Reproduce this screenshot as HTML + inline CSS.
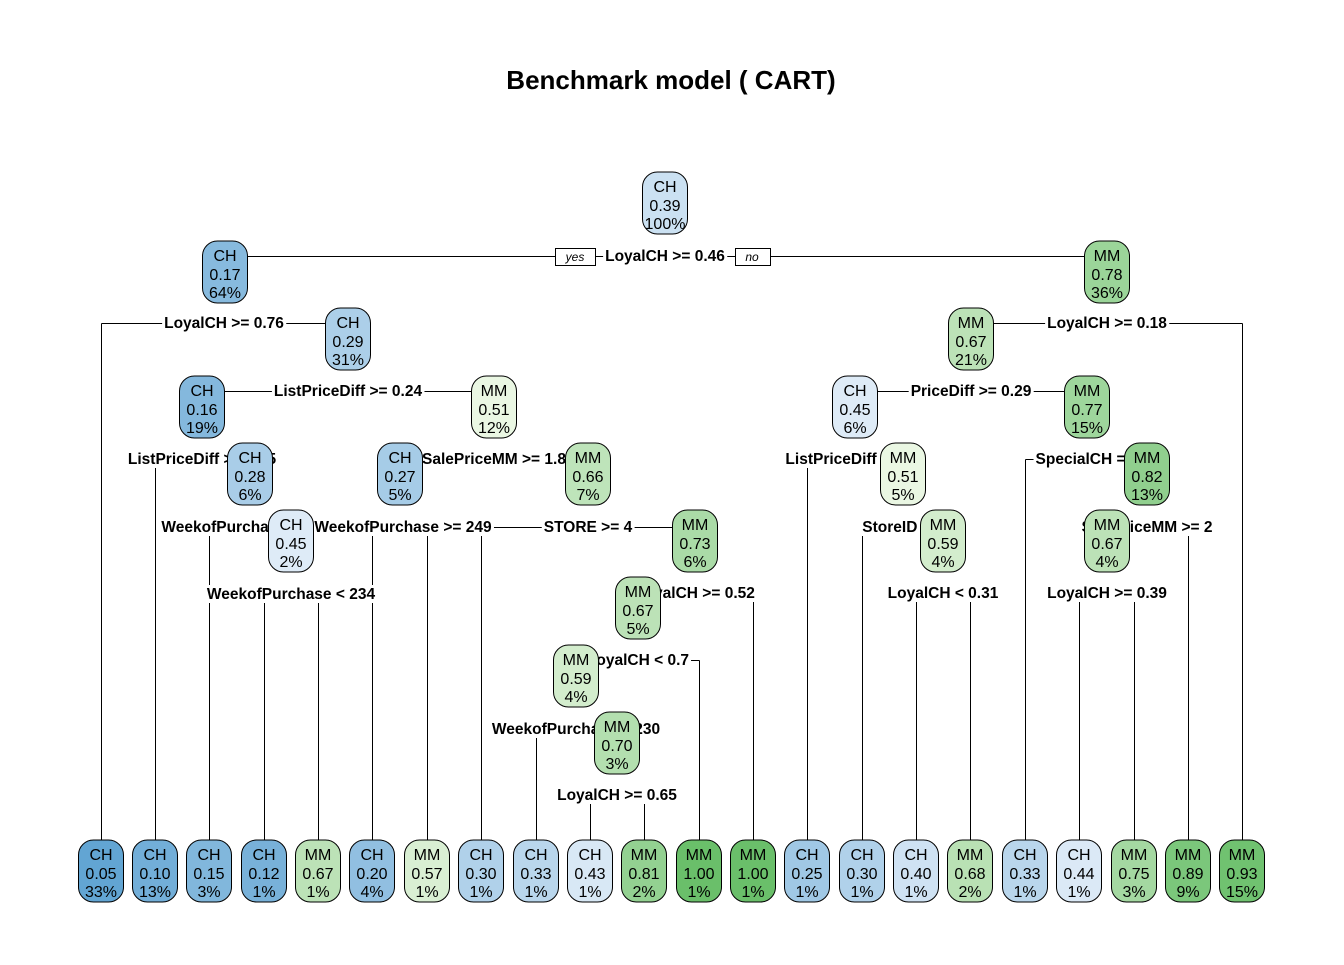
<!DOCTYPE html>
<html><head><meta charset="utf-8">
<style>
html,body{margin:0;padding:0;background:#fff;}
svg text{font-family:"Liberation Sans",Arial,sans-serif;}
</style></head>
<body>
<svg id="s" width="1344" height="960" xmlns="http://www.w3.org/2000/svg">
<rect width="1344" height="960" fill="#fff"/>
<text x="671" y="89" font-size="26" font-weight="bold" text-anchor="middle">Benchmark model ( CART)</text>
<g id="lines" stroke="#000" stroke-width="1" fill="none" shape-rendering="crispEdges"></g>
<g id="labels"></g>
<g id="nodes"></g>
</svg>
<script>
var L=document.getElementById('lines'),LB=document.getElementById('labels'),N=document.getElementById('nodes');
var NS='http://www.w3.org/2000/svg';
function el(p,t,a,txt){var e=document.createElementNS(NS,t);for(var k in a)e.setAttribute(k,a[k]);if(txt!=null)e.textContent=txt;p.appendChild(e);return e;}
function line(x1,y1,x2,y2){el(L,'line',{x1:x1+0.5,y1:y1+0.5,x2:x2+0.5,y2:y2+0.5});}
function mix(a,b,t){t=Math.max(0,Math.min(1,t));var r=[];for(var i=0;i<3;i++)r.push(Math.round(a[i]+(b[i]-a[i])*t));return 'rgb('+r.join(',')+')';}
function col(cls,p){
 if(cls=='CH'){var q=1-p;return mix([222,235,247],[98,165,211],(q-0.55)/0.4);}
 return mix([237,248,230],[106,191,106],(p-0.5)/0.45);
}
function node(x,y,cls,p,pct){
 el(N,'rect',{x:x-22.5,y:y-31,width:45,height:62,rx:15,ry:15,fill:col(cls,p),stroke:'#000','stroke-width':1});
 el(N,'text',{x:x,y:y-11,'font-size':16,'text-anchor':'middle'},cls);
 el(N,'text',{x:x,y:y+8,'font-size':16,'text-anchor':'middle'},p.toFixed(2));
 el(N,'text',{x:x,y:y+26,'font-size':16,'text-anchor':'middle'},pct+'%');
}
function lab(x,y,t){
 var tx=el(LB,'text',{x:x,y:y+5,'font-size':15.5,'font-weight':'bold','text-anchor':'middle'},t);
 var b=tx.getBBox();
 var r=document.createElementNS(NS,'rect');
 r.setAttribute('x',b.x-2);r.setAttribute('y',y-9);r.setAttribute('width',b.width+4);r.setAttribute('height',18);r.setAttribute('fill','#fff');
 LB.insertBefore(r,tx);
}
var LY=871;
function split(x,y,lx,rx,t){line(lx,y,rx,y);lab(x,y,t);}
function down(x,y1){line(x,y1,x,LY);}
split(665,256,225,1107,'LoyalCH >= 0.46');
split(224,323,101,348,'LoyalCH >= 0.76'); down(101,323);
split(348,391,202,494,'ListPriceDiff >= 0.24');
split(202,459,155,250,'ListPriceDiff >= 0.05'); down(155,459);
split(250,527,209,291,'WeekofPurchase >= 237'); down(209,527);
split(291,594,264,318,'WeekofPurchase < 234'); down(264,594); down(318,594);
split(494,459,400,588,'SalePriceMM >= 1.8');
split(403,527,372,427,'WeekofPurchase >= 249'); down(372,527); down(427,527);
split(588,527,481,695,'STORE >= 4'); down(481,527);
split(695,593,638,753,'LoyalCH >= 0.52'); down(753,593);
split(638,660,576,699,'LoyalCH < 0.7'); down(699,660);
split(576,729,536,617,'WeekofPurchase < 230'); down(536,729);
split(617,795,590,644,'LoyalCH >= 0.65'); down(590,795); down(644,795);
split(1107,323,971,1242,'LoyalCH >= 0.18'); down(1242,323);
split(971,391,855,1087,'PriceDiff >= 0.29');
split(855,459,807,903,'ListPriceDiff < 0.24'); down(807,459);
split(903,527,862,943,'StoreID < 2'); down(862,527);
split(943,593,916,970,'LoyalCH < 0.31'); down(916,593); down(970,593);
split(1087,459,1025,1147,'SpecialCH = 0'); down(1025,459);
split(1147,527,1107,1188,'SalePriceMM >= 2'); down(1188,527);
split(1107,593,1079,1134,'LoyalCH >= 0.39'); down(1079,593); down(1134,593);
el(LB,'rect',{x:555.5,y:248.5,width:40,height:17,fill:'#fff',stroke:'#000'});
el(LB,'text',{x:575,y:261,'font-size':12,'font-style':'italic','text-anchor':'middle'},'yes');
el(LB,'rect',{x:735.5,y:248.5,width:35,height:17,fill:'#fff',stroke:'#000'});
el(LB,'text',{x:752,y:261,'font-size':12,'font-style':'italic','text-anchor':'middle'},'no');
node(665,203,'CH',0.39,100);
node(225,272,'CH',0.17,64);
node(1107,272,'MM',0.78,36);
node(348,339,'CH',0.29,31);
node(971,339,'MM',0.67,21);
node(202,407,'CH',0.16,19);
node(494,407,'MM',0.51,12);
node(855,407,'CH',0.45,6);
node(1087,407,'MM',0.77,15);
node(250,474,'CH',0.28,6);
node(400,474,'CH',0.27,5);
node(588,474,'MM',0.66,7);
node(903,474,'MM',0.51,5);
node(1147,474,'MM',0.82,13);
node(291,541,'CH',0.45,2);
node(695,541,'MM',0.73,6);
node(943,541,'MM',0.59,4);
node(1107,541,'MM',0.67,4);
node(638,608,'MM',0.67,5);
node(576,676,'MM',0.59,4);
node(617,743,'MM',0.70,3);
var lv=[[101,'CH',0.05,33],[155,'CH',0.10,13],[209,'CH',0.15,3],[264,'CH',0.12,1],[318,'MM',0.67,1],[372,'CH',0.20,4],[427,'MM',0.57,1],[481,'CH',0.30,1],[536,'CH',0.33,1],[590,'CH',0.43,1],[644,'MM',0.81,2],[699,'MM',1.00,1],[753,'MM',1.00,1],[807,'CH',0.25,1],[862,'CH',0.30,1],[916,'CH',0.40,1],[970,'MM',0.68,2],[1025,'CH',0.33,1],[1079,'CH',0.44,1],[1134,'MM',0.75,3],[1188,'MM',0.89,9],[1242,'MM',0.93,15]];
lv.forEach(function(a){node(a[0],LY,a[1],a[2],a[3]);});
</script>
</body></html>
